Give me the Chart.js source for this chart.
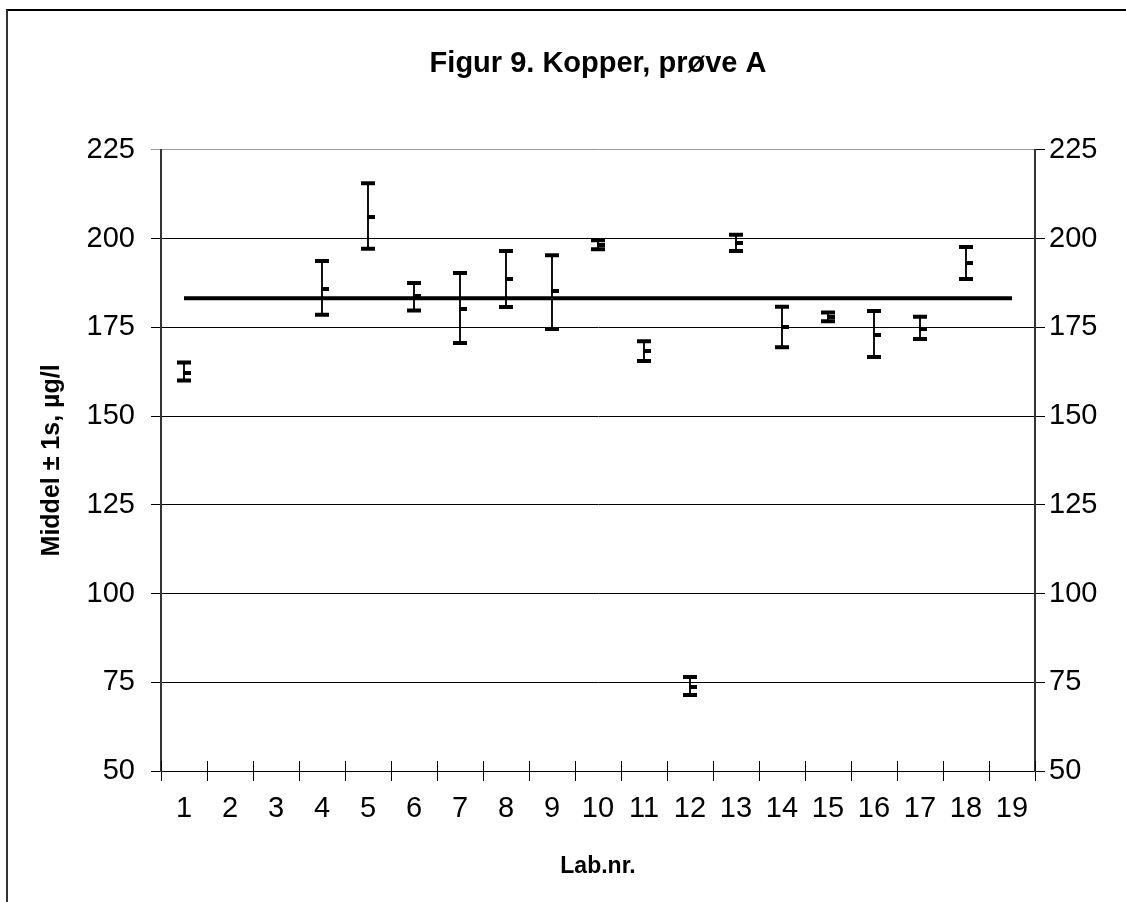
<!DOCTYPE html>
<html>
<head>
<meta charset="utf-8">
<script src="https://cdn.jsdelivr.net/npm/chart.js@4"></script>
<style>
    html, body { margin: 0; padding: 0; background: #fff; }
    #wrap { position: relative; width: 1126px; height: 902px; overflow: hidden; }
    #frame { position: absolute; left: 6px; top: 9px; width: 1200px; height: 1000px;
             border-left: 2px solid #333; border-top: 2px solid #000; }
    canvas { position: absolute; left: 0; top: 0; }
</style>
</head>
<body>
<div id="wrap">
    <div id="frame"></div>
    <canvas id="chart" width="1126" height="902"></canvas>
</div>
<script>
// Data (Lab 2, 3 and 19 reported nothing)
const labs = ['1', '2', '3', '4', '5', '6', '7', '8', '9', '10', '11', '12', '13', '14', '15', '16', '17', '18', '19'];
const highValues = [165.1, null, null, 193.7, 215.6, 187.5, 190.3, 196.5, 195.3, 199.5, 171.1, 76.5, 201.1, 180.8, 179.2, 179.6, 178.0, 197.6, null];
const meanValues = [162.1, null, null, 185.8, 206.0, 183.7, 180.1, 188.6, 185.2, 198.2, 168.3, 73.7, 198.8, 175.1, 178.0, 172.8, 174.5, 193.1, null];
const lowValues = [160.0, null, null, 178.5, 197.1, 179.7, 170.6, 180.7, 174.5, 197.0, 165.5, 71.4, 196.5, 169.4, 176.7, 166.6, 171.7, 188.6, null];
const targetValue = 183.2;
const yTicks = [50, 75, 100, 125, 150, 175, 200, 225];

const FONT = 'Arial, "Liberation Sans", sans-serif';

// "close" marker: short dash to the right of the stem
const closeMark = document.createElement('canvas');
closeMark.width = 16;
closeMark.height = 4;
closeMark.getContext('2d').fillRect(7, 0, 8, 4);

// Excel style cross tick marks on the category axis (upper half)
const crossTicks = {
    id: 'crossTicks',
    afterDraw(chart) {
        const x = chart.scales.x;
        const ctx = chart.ctx;
        ctx.save();
        ctx.strokeStyle = '#000';
        ctx.lineWidth = 1;
        ctx.beginPath();
        for (let i = 0; i <= labs.length; i++) {
            const px = Math.round(x.getPixelForValue(i - 0.5)) + 0.5;
            ctx.moveTo(px, x.top - 10);
            ctx.lineTo(px, x.top);
        }
        ctx.stroke();
        ctx.restore();
    }
};

new Chart(document.getElementById('chart'), {
    type: 'bar',
    data: {
        labels: labs,
        datasets: [
            {
                type: 'line',
                label: 'Mål',
                data: labs.map(() => targetValue),
                borderColor: '#000',
                borderWidth: 4,
                pointRadius: 0,
                order: 0
            },
            {
                type: 'line',
                label: 'Middel',
                data: meanValues,
                showLine: false,
                pointStyle: closeMark,
                pointRadius: 8,
                order: 1
            },
            {
                type: 'line',
                label: 'Høy',
                data: highValues,
                showLine: false,
                pointStyle: 'line',
                pointRadius: 7,
                pointBorderWidth: 4,
                pointBorderColor: '#000',
                order: 2
            },
            {
                type: 'line',
                label: 'Lav',
                data: lowValues,
                showLine: false,
                pointStyle: 'line',
                pointRadius: 7,
                pointBorderWidth: 4,
                pointBorderColor: '#000',
                order: 3
            },
            {
                type: 'bar',
                label: '±1s',
                data: lowValues.map((v, i) => v === null ? null : [v, highValues[i]]),
                backgroundColor: '#000',
                borderWidth: 0,
                barThickness: 1.2,
                order: 4
            }
        ]
    },
    options: {
        responsive: false,
        animation: false,
        events: [],
        layout: { padding: 0 },
        plugins: {
            legend: { display: false },
            tooltip: { enabled: false },
            title: {
                display: true,
                fullSize: false,
                text: 'Figur 9. Kopper, prøve A',
                color: '#000',
                font: { family: FONT, size: 29, weight: 'bold' },
                padding: { top: 47, bottom: 68 }
            }
        },
        scales: {
            x: {
                type: 'category',
                offset: true,
                grid: { offset: true, drawOnChartArea: false, drawTicks: true, tickLength: 10, color: '#000' },
                border: { color: '#000', width: 1 },
                ticks: { color: '#000', font: { family: FONT, size: 29 }, padding: 11, maxRotation: 0, autoSkip: false },
                title: {
                    display: true,
                    text: 'Lab.nr.',
                    color: '#000',
                    font: { family: FONT, size: 23, weight: 'bold' },
                    padding: { top: 0, bottom: 22 }
                },
                afterFit(scale) { scale.height = 131; }
            },
            y: {
                position: 'left',
                min: 50,
                max: 225,
                afterBuildTicks(scale) { scale.ticks = yTicks.map(v => ({ value: v })); },
                grid: {
                    color: ctx => ctx.tick && ctx.tick.value === 225 ? '#999' : '#000',
                    lineWidth: 1,
                    tickLength: 10
                },
                border: { color: '#333', width: 2 },
                ticks: { color: '#000', font: { family: FONT, size: 29 }, padding: 16 },
                title: {
                    display: true,
                    text: 'Middel ± 1s, µg/l',
                    color: '#000',
                    font: { family: FONT, size: 25, weight: 'bold' },
                    padding: { top: 37, bottom: 0 }
                },
                afterFit(scale) { scale.width = 161; }
            },
            y2: {
                position: 'right',
                min: 50,
                max: 225,
                afterBuildTicks(scale) { scale.ticks = yTicks.map(v => ({ value: v })); },
                grid: { drawOnChartArea: false, tickLength: 10, color: '#000' },
                border: { color: '#333', width: 2 },
                ticks: { color: '#000', font: { family: FONT, size: 29 }, padding: 4 },
                afterFit(scale) { scale.width = 91; }
            }
        }
    },
    plugins: [crossTicks]
});
</script>
</body>
</html>
